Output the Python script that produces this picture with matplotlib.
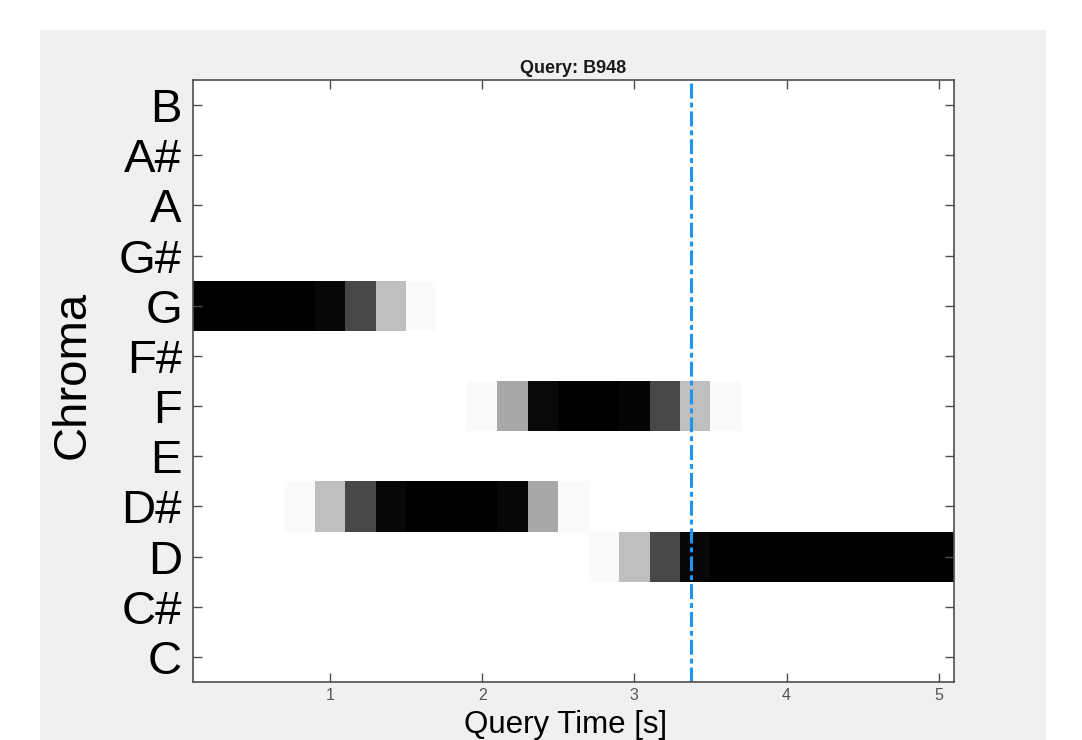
import numpy as np
import matplotlib
matplotlib.use('Agg')
import matplotlib.pyplot as plt
from matplotlib.patches import Rectangle

plt.rcParams['font.family'] = ['Liberation Sans', 'DejaVu Sans']

# ── data ──────────────────────────────────────────────
chroma_labels = ['C', 'C#', 'D', 'D#', 'E', 'F', 'F#', 'G', 'G#', 'A', 'A#', 'B']
frame_times = [0.2, 0.4, 0.6, 0.8, 1.0, 1.2, 1.4, 1.6, 1.8, 2.0, 2.2, 2.4, 2.6,
               2.8, 3.0, 3.2, 3.4, 3.6, 3.8, 4.0, 4.2, 4.4, 4.6, 4.8, 5.0]
frame_width = 0.2

# darkness per frame (0 = white, 1 = black), only non-empty rows
row_G  = [1.0, 1.0, 1.0, 1.0, 0.97, 0.72, 0.25, 0.02, 0, 0, 0, 0, 0,
          0, 0, 0, 0, 0, 0, 0, 0, 0, 0, 0, 0]
row_Ds = [0, 0, 0, 0.02, 0.25, 0.72, 0.97, 1.0, 1.0, 1.0, 0.97, 0.34, 0.02,
          0, 0, 0, 0, 0, 0, 0, 0, 0, 0, 0, 0]
row_F  = [0, 0, 0, 0, 0, 0, 0, 0, 0, 0.02, 0.34, 0.96, 1.0,
          1.0, 0.98, 0.72, 0.25, 0.02, 0, 0, 0, 0, 0, 0, 0]
row_D  = [0, 0, 0, 0, 0, 0, 0, 0, 0, 0, 0, 0, 0,
          0.02, 0.25, 0.72, 0.97, 1.0, 1.0, 1.0, 1.0, 1.0, 1.0, 1.0, 1.0]

cursor_time = 3.375
title = 'Query: B948'

# build chroma matrix
chroma = np.zeros((len(chroma_labels), len(frame_times)))
chroma[chroma_labels.index('G')] = row_G
chroma[chroma_labels.index('D#')] = row_Ds
chroma[chroma_labels.index('F')] = row_F
chroma[chroma_labels.index('D')] = row_D

W, H = 1082, 740
fig = plt.figure(figsize=(W / 100, H / 100), dpi=100, facecolor='white')
# grey panel like the MATLAB window
fig.patches.append(Rectangle((40 / W, 0), (1046 - 40) / W, (740 - 30) / H,
                             transform=fig.transFigure, facecolor='#f0f0f0',
                             edgecolor='none', zorder=-1))

ax = fig.add_axes([193 / W, (H - 682) / H, (954 - 193) / W, (682 - 80) / H])
t0 = frame_times[0] - frame_width / 2
t1 = frame_times[-1] + frame_width / 2
ax.imshow(chroma, cmap='gray_r', vmin=0, vmax=1, origin='lower', aspect='auto',
          interpolation='nearest',
          extent=[t0, t1, 0.5, len(chroma_labels) + 0.5])
ax.axvline(cursor_time, color='#1f95f0', lw=2.2,
           linestyle=(0, (4.9, 1.3, 1.6, 1.3)))

ax.set_xlim(t0, t1)
ax.set_ylim(0.5, len(chroma_labels) + 0.5)
ax.set_xticks([1, 2, 3, 4, 5])
ax.set_yticks(range(1, len(chroma_labels) + 1))
ax.set_yticklabels(chroma_labels)

edge = '#4d4d4d'
for s in ax.spines.values():
    s.set_color(edge); s.set_linewidth(1.2)
ax.tick_params(direction='in', top=True, right=True, length=6.5, width=1.0,
               color=edge)
ax.tick_params(axis='x', labelsize=11.5, labelcolor='#555555', pad=4)
ax.tick_params(axis='y', labelsize=34, labelcolor='black', pad=8)

ax.set_title(title, fontsize=13, fontweight='bold', color='#1a1a1a', pad=5)
ax.set_xlabel('Query Time [s]', fontsize=22.5, va='top')
ax.xaxis.set_label_coords(0.489, -0.046)
ax.set_ylabel('Chroma', fontsize=34)
ax.yaxis.set_label_coords(-0.129, 0.51)

fig.savefig('out.png', dpi=100, facecolor='white')
